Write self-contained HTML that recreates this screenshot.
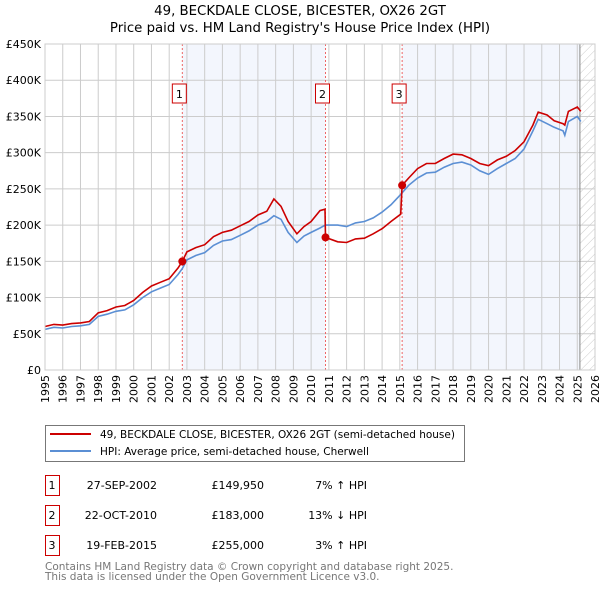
<!DOCTYPE html>
<html><head><meta charset="utf-8"><style>
body{margin:0;background:#fff;font-family:"Liberation Sans","DejaVu Sans",sans-serif;}
svg text{font-family:"DejaVu Sans","Liberation Sans",sans-serif;}
</style></head><body>
<svg id="c" width="600" height="590" viewBox="0 0 600 590">
<defs><pattern id="hatch" width="6" height="6" patternUnits="userSpaceOnUse" patternTransform="rotate(45)"><line x1="0" y1="0" x2="0" y2="6" stroke="#ccc" stroke-width="1"/></pattern></defs>
<text x="300" y="15" text-anchor="middle" font-size="13.3">49, BECKDALE CLOSE, BICESTER, OX26 2GT</text>
<text x="300" y="32" text-anchor="middle" font-size="13.3">Price paid vs. HM Land Registry's House Price Index (HPI)</text>
<g id="plot"></g>
<g>
<rect x="45.5" y="425.5" width="419" height="36" fill="#fff" stroke="#777"/>
<line x1="50" y1="434" x2="91" y2="434" stroke="#cc0000" stroke-width="2"/>
<text x="100" y="438" font-size="10.5">49, BECKDALE CLOSE, BICESTER, OX26 2GT (semi-detached house)</text>
<line x1="50" y1="451" x2="91" y2="451" stroke="#5b8fd4" stroke-width="2"/>
<text x="100" y="455" font-size="10.5">HPI: Average price, semi-detached house, Cherwell</text>
</g>
<g id="tbl" font-size="11"></g>
<text x="45" y="570" font-size="10.5" fill="#777">Contains HM Land Registry data © Crown copyright and database right 2025.</text>
<text x="45" y="580" font-size="10.5" fill="#777">This data is licensed under the Open Government Licence v3.0.</text>
</svg>
<script>
const hpiYears=[1995,1995.5,1996,1996.5,1997,1997.5,1998,1998.5,1999,1999.5,2000,2000.5,2001,2001.5,2002,2002.5,2002.74,2003,2003.5,2004,2004.5,2005,2005.5,2006,2006.5,2007,2007.5,2007.9,2008.3,2008.7,2009.2,2009.6,2010,2010.5,2010.8,2011.5,2012,2012.5,2013,2013.5,2014,2014.5,2015,2015.5,2016,2016.5,2017,2017.5,2018,2018.5,2019,2019.5,2020,2020.5,2021,2021.5,2022,2022.5,2022.8,2023.3,2023.7,2024.2,2024.3,2024.5,2025,2025.2];
const hpiValues=[56,59,58,60,61,63,74,77,81,83,90,100,108,113,118,132,140,152,158,162,172,178,180,186,192,200,205,213,208,190,176,185,190,196,200,200,198,203,205,210,218,228,241,255,265,272,273,280,285,287,283,275,270,278,285,292,305,330,346,340,335,330,324,343,350,343];
const propYears=[1995,1995.5,1996,1996.5,1997,1997.5,1998,1998.5,1999,1999.5,2000,2000.5,2001,2001.5,2002,2002.5,2002.74,2003,2003.5,2004,2004.5,2005,2005.5,2006,2006.5,2007,2007.5,2007.9,2008.3,2008.7,2009.2,2009.6,2010,2010.5,2010.78,2010.81,2011.5,2012,2012.5,2013,2013.5,2014,2014.5,2015.05,2015.13,2015.5,2016,2016.5,2017,2017.5,2018,2018.5,2019,2019.5,2020,2020.5,2021,2021.5,2022,2022.5,2022.8,2023.3,2023.7,2024.2,2024.3,2024.5,2025,2025.2];
const propValues=[60,63,62,64,65,67,79,82,87,89,96,107,116,121,126,141,150,163,169,173,184,190,193,199,205,214,219,236,226,205,188,198,205,220,222,183,177,176,181,182,188,195,205,215,255,265,278,285,285,292,298,297,292,285,282,290,295,303,315,338,356,352,344,340,338,357,363,357];
const saleYears=[2002.74,2010.81,2015.13];
const saleValues=[149.95,183,255];
const saleLabels=["1","2","3"];
const saleDates=["27-SEP-2002","22-OCT-2010","19-FEB-2015"];
const salePrices=["£149,950","£183,000","£255,000"];
const saleHpi=["7% ↑ HPI","13% ↓ HPI","3% ↑ HPI"];
const yTicks=[0,50,100,150,200,250,300,350,400,450];
const yTickLabels=["£0","£50K","£100K","£150K","£200K","£250K","£300K","£350K","£400K","£450K"];
const xTicks=[1995,1996,1997,1998,1999,2000,2001,2002,2003,2004,2005,2006,2007,2008,2009,2010,2011,2012,2013,2014,2015,2016,2017,2018,2019,2020,2021,2022,2023,2024,2025,2026];
const dataEnd=2025.15;

const NS="http://www.w3.org/2000/svg";
const X0=45,X1=595,Y0=370,Y1=44;
const xs=v=>X0+(v-1995)/(2026-1995)*(X1-X0);
const ys=v=>Y0-v/450*(Y0-Y1);
const plot=document.getElementById('plot');
function mk(tag,attrs,parent){const e=document.createElementNS(NS,tag);for(const k in attrs)e.setAttribute(k,attrs[k]);(parent||plot).appendChild(e);return e;}
let r;
r=mk('rect',{x:X0,y:Y1,width:X1-X0,height:Y0-Y1,fill:'#fff'});


r=mk('rect',{x:xs(saleYears[0]),y:Y1,width:xs(saleYears[1])-xs(saleYears[0]),height:Y0-Y1,fill:'#f3f6fd'});


r=mk('rect',{x:xs(saleYears[2]),y:Y1,width:xs(dataEnd)-xs(saleYears[2]),height:Y0-Y1,fill:'#f3f6fd'});


r=mk('rect',{x:xs(dataEnd),y:Y1,width:X1-xs(dataEnd),height:Y0-Y1,fill:'url(#hatch)'});


xTicks.forEach(t=>{const l=mk('line',{x1:xs(t),x2:xs(t),y1:Y1,y2:Y0,stroke:'#ccc','stroke-width':1});


const tx=mk('text',{x:0,y:0,'font-size':11,'text-anchor':'end',transform:`translate(${xs(t)+4},${Y0+5}) rotate(-90)`});tx.textContent=t;

});
yTicks.forEach((t,i)=>{const l=mk('line',{x1:X0,x2:X1,y1:ys(t),y2:ys(t),stroke:'#ccc','stroke-width':1});


const tx=mk('text',{x:X0-4,y:ys(t)+4,'font-size':11,'text-anchor':'end'});tx.textContent=yTickLabels[i];

});
r=mk('line',{x1:xs(dataEnd),x2:xs(dataEnd),y1:Y1,y2:Y0,stroke:'#888','stroke-width':1});


saleYears.forEach((s,i)=>{const l=mk('line',{x1:xs(s),x2:xs(s),y1:Y1,y2:Y0,stroke:'#e66','stroke-width':1,'stroke-dasharray':'2,2'});


const b=mk('rect',{x:xs(s)-10,y:84,width:14,height:19,fill:'#fff',stroke:'#cc0000'});


const t=mk('text',{x:xs(s)-3,y:98,'font-size':11,'text-anchor':'middle'});t.textContent=saleLabels[i];

});
function path(xv,yv){return xv.map((x,i)=>(i?'L':'M')+xs(x).toFixed(1)+','+ys(yv[i]).toFixed(1)).join('');}
r=mk('path',{d:path(hpiYears,hpiValues),fill:'none',stroke:'#5b8fd4','stroke-width':1.6});


r=mk('path',{d:path(propYears,propValues),fill:'none',stroke:'#cc0000','stroke-width':1.6});


saleYears.forEach((s,i)=>{const c=mk('circle',{cx:xs(s),cy:ys(saleValues[i]),r:4,fill:'#cc0000'});

});
r=mk('rect',{x:X0,y:Y1,width:X1-X0,height:Y0-Y1,fill:'none',stroke:'#ccc'});


const tbl=document.getElementById('tbl');
saleLabels.forEach((lab,i)=>{const y=478+i*30;
const b=mk('rect',{x:45.5,y:y-2.5,width:14,height:20,fill:'#fff',stroke:'#cc0000'},tbl);


const cols=[[52,lab,'middle'],[157,saleDates[i],'end'],[264,salePrices[i],'end'],[367,saleHpi[i],'end']];
cols.forEach(c=>{const t=mk('text',{x:c[0],y:y+11,'text-anchor':c[2]},tbl);t.textContent=c[1];

});});
</script>
</body></html>
